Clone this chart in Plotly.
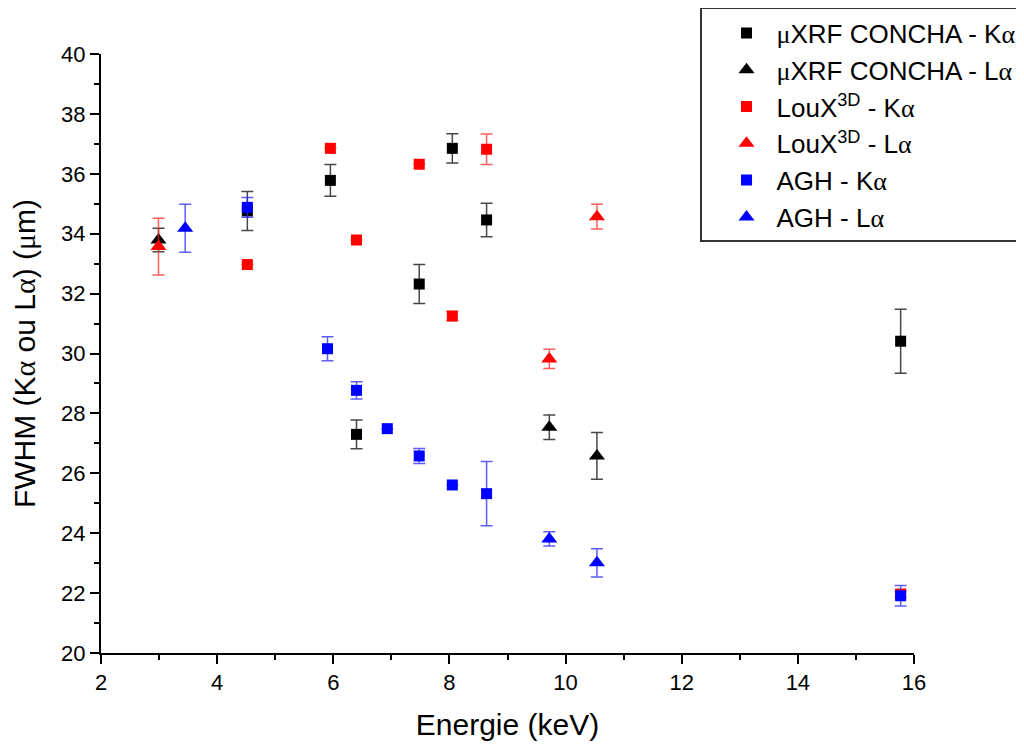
import plotly.graph_objects as go

# ---- data ----
concha_ka_x = [4.52, 5.95, 6.40, 7.48, 8.05, 8.64, 15.77]
concha_ka_y = [34.76, 35.78, 27.30, 32.32, 36.85, 34.46, 30.41]
concha_ka_e = [0.65, 0.53, 0.48, 0.65, 0.49, 0.56, 1.07]

concha_la_x = [2.99, 9.72, 10.54]
concha_la_y = [33.79, 27.54, 26.58]
concha_la_e = [0.39, 0.41, 0.78]

loux_ka_x = [4.52, 5.95, 6.40, 7.48, 8.05, 8.64, 15.77]
loux_ka_y = [32.97, 36.85, 33.79, 36.32, 31.25, 36.82, 21.97]
loux_ka_e = [0.0, 0.0, 0.0, 0.0, 0.15, 0.51, 0.12]

loux_la_x = [2.99, 9.72, 10.54]
loux_la_y = [33.57, 29.82, 34.57]
loux_la_e = [0.95, 0.32, 0.41]

agh_ka_x = [4.52, 5.90, 6.40, 6.93, 7.48, 8.05, 8.64, 15.77]
agh_ka_y = [34.88, 30.16, 28.77, 27.49, 26.58, 25.61, 25.32, 21.91]
agh_ka_e = [0.33, 0.40, 0.29, 0.0, 0.25, 0.0, 1.07, 0.34]

agh_la_x = [3.45, 9.72, 10.54]
agh_la_y = [34.18, 23.81, 23.01]
agh_la_e = [0.80, 0.24, 0.47]

x_ticks = [2, 4, 6, 8, 10, 12, 14, 16]
y_ticks = [20, 22, 24, 26, 28, 30, 32, 34, 36, 38, 40]

A = '<span style="font-family:\'Liberation Serif\', serif">α</span>'
M = '<span style="font-family:\'Liberation Serif\', serif">μ</span>'

series = [
    (M + "XRF CONCHA - K" + A, concha_ka_x, concha_ka_y, concha_ka_e, "black", "rgba(40,40,40,0.85)", "square"),
    (M + "XRF CONCHA - L" + A, concha_la_x, concha_la_y, concha_la_e, "black", "rgba(40,40,40,0.85)", "triangle-up"),
    ("LouX<sup>3D</sup> - K" + A, loux_ka_x, loux_ka_y, loux_ka_e, "red", "rgba(255,40,40,0.75)", "square"),
    ("LouX<sup>3D</sup> - L" + A, loux_la_x, loux_la_y, loux_la_e, "red", "rgba(255,40,40,0.75)", "triangle-up"),
    ("AGH - K" + A, agh_ka_x, agh_ka_y, agh_ka_e, "blue", "rgba(40,40,255,0.75)", "square"),
    ("AGH - L" + A, agh_la_x, agh_la_y, agh_la_e, "blue", "rgba(40,40,255,0.75)", "triangle-up"),
]

fig = go.Figure()
for i, (name, xs, ys, es, col, ecol, sym) in enumerate(series):
    fig.add_trace(go.Scatter(
        x=xs, y=ys, mode="markers", name=name,
        legendgroup=f"g{i}",
        marker=dict(symbol=sym, color=col, size=11 if sym == "square" else 14, line=dict(width=0)),
        error_y=dict(type="data", array=es, visible=True, color=ecol, thickness=1.5, width=6),
    ))

font_family = "Arial, 'Liberation Sans', sans-serif"
fig.update_layout(
    width=1016, height=739,
    margin=dict(l=93, r=110, t=46, b=94, autoexpand=False),
    paper_bgcolor="white", plot_bgcolor="white",
    font=dict(family=font_family, color="black", size=22),
    showlegend=True,
    legend=dict(
        x=0.7368, y=1.0768, xanchor="left", yanchor="top",
        bgcolor="white", bordercolor="#333", borderwidth=1.5,
        font=dict(size=26, family=font_family),
        traceorder="grouped", tracegroupgap=0,
        indentation=15, itemwidth=50,
    ),
    xaxis=dict(
        range=[2, 16], tickvals=x_ticks, showgrid=False, zeroline=False,
        showline=True, linecolor="black", linewidth=2,
        ticks="outside", ticklen=9, tickwidth=2, tickcolor="black",
        minor=dict(dtick=1, ticks="outside", ticklen=5, tickwidth=2, tickcolor="black"),
        tickfont=dict(size=22),
        title=dict(text="Energie (keV)", font=dict(size=30), standoff=20),
    ),
    yaxis=dict(
        range=[20, 40], tickvals=y_ticks, showgrid=False, zeroline=False,
        showline=True, linecolor="black", linewidth=2,
        ticks="outside", ticklen=9, tickwidth=2, tickcolor="black",
        minor=dict(dtick=1, ticks="outside", ticklen=5, tickwidth=2, tickcolor="black"),
        tickfont=dict(size=22),
        title=dict(text="FWHM (K" + A + " ou L" + A + ") (" + M + "m)", font=dict(size=30), standoff=20),
    ),
)

fig.write_html("out.html")
